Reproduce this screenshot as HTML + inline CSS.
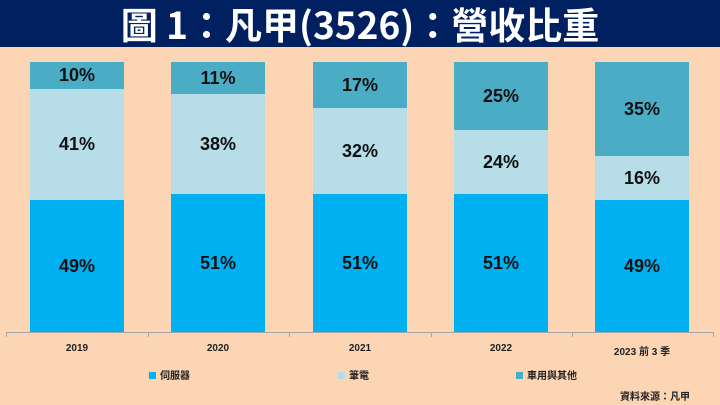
<!DOCTYPE html><html><head><meta charset="utf-8"><style>
body{margin:0;width:720px;height:405px;background:#fcd5b5;position:relative;overflow:hidden;font-family:"Liberation Sans","Noto Sans CJK TC",sans-serif;}
.t{position:absolute;left:0;top:0;width:720px;height:47px;background:#002060;color:#fff;font-weight:bold;font-size:37px;text-align:center;line-height:47px;font-family:"Noto Sans CJK TC",sans-serif;}
.s{position:absolute;display:flex;align-items:center;justify-content:center;font-weight:bold;font-size:18px;color:#111;}
.a{position:absolute;top:332px;left:6px;width:708px;height:1px;background:#a6a6a6;}
.k{position:absolute;top:332px;width:1px;height:5px;background:#a6a6a6;}
.x{position:absolute;top:343px;width:120px;text-align:center;font-size:10px;font-weight:bold;color:#222;}
.l{position:absolute;top:367px;font-size:10px;font-weight:bold;color:#222;}
.l i{display:inline-block;width:7px;height:7px;margin-right:4px;}
</style></head><body>
<div class="t">圖 1：凡甲(3526)：營收比重</div>
<div id="c"></div>
<div class="a"></div>
<div class="k" style="left:6px"></div><div class="k" style="left:148px"></div><div class="k" style="left:289px"></div><div class="k" style="left:431px"></div><div class="k" style="left:572px"></div><div class="k" style="left:713px"></div>
<div class="x" style="left:17px">2019</div><div class="x" style="left:158px">2020</div><div class="x" style="left:300px">2021</div><div class="x" style="left:441px">2022</div><div class="x" style="left:582px">2023 前 3 季</div>
<div class="l" style="left:149px"><i style="background:#00b0f0"></i>伺服器</div>
<div class="l" style="left:338px"><i style="background:#b7dde8"></i>筆電</div>
<div class="l" style="left:516px"><i style="background:#4bacc6"></i>車用與其他</div>
<div style="position:absolute;left:620px;top:388px;font-size:10px;font-weight:bold;color:#222">資料來源：凡甲</div>
<script>
var xs=[30,171,313,454,595],d=[[89,200,10,41,49],[94,194,11,38,51],[108,194,17,32,51],[130,194,25,24,51],[156,200,35,16,49]],h='';
d.forEach(function(r,i){var x=xs[i];
h+='<div class="s" style="left:'+x+'px;top:62px;width:94px;height:'+(r[0]-62)+'px;background:#4bacc6">'+r[2]+'%</div>';
h+='<div class="s" style="left:'+x+'px;top:'+r[0]+'px;width:94px;height:'+(r[1]-r[0])+'px;background:#b7dde8">'+r[3]+'%</div>';
h+='<div class="s" style="left:'+x+'px;top:'+r[1]+'px;width:94px;height:'+(332-r[1])+'px;background:#00b0f0">'+r[4]+'%</div>';});
document.getElementById('c').innerHTML=h;
</script>
</body></html>
